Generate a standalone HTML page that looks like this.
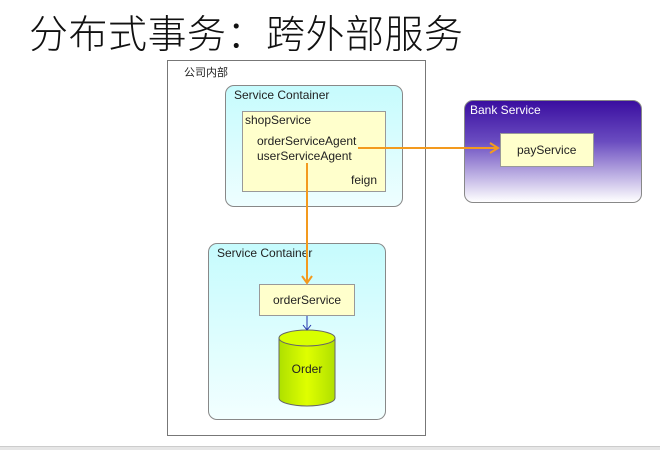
<!DOCTYPE html>
<html><head><meta charset="utf-8"><style>
body{margin:0;width:660px;height:450px;background:#fff;position:relative;overflow:hidden;font-family:"Liberation Sans","Noto Sans CJK SC",sans-serif}
.a{position:absolute;box-sizing:border-box}
.t{position:absolute;font-size:12px;color:#222;white-space:nowrap}
</style></head><body>
<div class="t" style="left:29px;top:6px;font-size:39px;letter-spacing:0.5px;color:#111;font-family:'Noto Sans CJK SC',sans-serif;font-weight:300;line-height:52px">分布式事务：跨外部服务</div>
<div class="a" style="left:167px;top:60px;width:259px;height:376px;border:1px solid #777"></div>
<div class="t" style="left:184px;top:64px;font-size:11px">公司内部</div>
<div class="a" style="left:225px;top:85px;width:178px;height:122px;border:1px solid #888;border-radius:9px;background:linear-gradient(#c6fbfd,#eefeff)"></div>
<div class="t" style="left:234px;top:88px">Service Container</div>
<div class="a" style="left:242px;top:111px;width:144px;height:81px;border:1px solid #999;background:#ffffcc"></div>
<div class="t" style="left:245px;top:113px">shopService</div>
<div class="t" style="left:257px;top:134px">orderServiceAgent</div>
<div class="t" style="left:257px;top:149px">userServiceAgent</div>
<div class="t" style="left:351px;top:173px">feign</div>
<div class="a" style="left:208px;top:243px;width:178px;height:177px;border:1px solid #888;border-radius:9px;background:linear-gradient(#c6fbfd,#f2ffff)"></div>
<div class="t" style="left:217px;top:246px">Service Container</div>
<div class="a" style="left:259px;top:284px;width:96px;height:32px;border:1px solid #999;background:#ffffcc"></div>
<div class="t" style="left:273px;top:293px">orderService</div>
<div class="a" style="left:464px;top:100px;width:178px;height:103px;border:1px solid #888;border-radius:9px;background:linear-gradient(#3a0ea0 0%,#6a4cc0 40%,#fff 100%)"></div>
<div class="t" style="left:470px;top:103px;color:#fff">Bank Service</div>
<div class="a" style="left:500px;top:133px;width:94px;height:34px;border:1px solid #999;background:#ffffcc"></div>
<div class="t" style="left:517px;top:143px">payService</div>
<svg class="a" style="left:0;top:0" width="660" height="450">
<defs><linearGradient id="g" x1="0" x2="1"><stop offset="0" stop-color="#aee000"/><stop offset=".5" stop-color="#dfff00"/><stop offset="1" stop-color="#b0e000"/></linearGradient></defs>
<path d="M279 338 V398 A28 8 0 0 0 335 398 V338" fill="url(#g)" stroke="#666"/>
<ellipse cx="307" cy="338" rx="28" ry="8" fill="#d8ff00" stroke="#666"/>
<text x="307" y="373" font-size="12" text-anchor="middle" fill="#222" font-family="Liberation Sans">Order</text>
<line x1="358" y1="148" x2="497" y2="148" stroke="#f39a1e" stroke-width="2"/>
<path d="M490 143 L498 148 L490 153" fill="none" stroke="#f39a1e" stroke-width="2"/>
<line x1="307" y1="163" x2="307" y2="283" stroke="#f39a1e" stroke-width="2"/>
<path d="M302 276 L307 283 L312 276" fill="none" stroke="#f39a1e" stroke-width="2"/>
<line x1="307" y1="316" x2="307" y2="329" stroke="#2233aa"/>
<path d="M303 325 L307 330 L311 325" fill="none" stroke="#2233aa"/>
</svg>
<div class="a" style="left:0;top:446px;width:660px;height:4px;background:#e6e6e6;border-top:1px solid #ccc"></div>
</body></html>
